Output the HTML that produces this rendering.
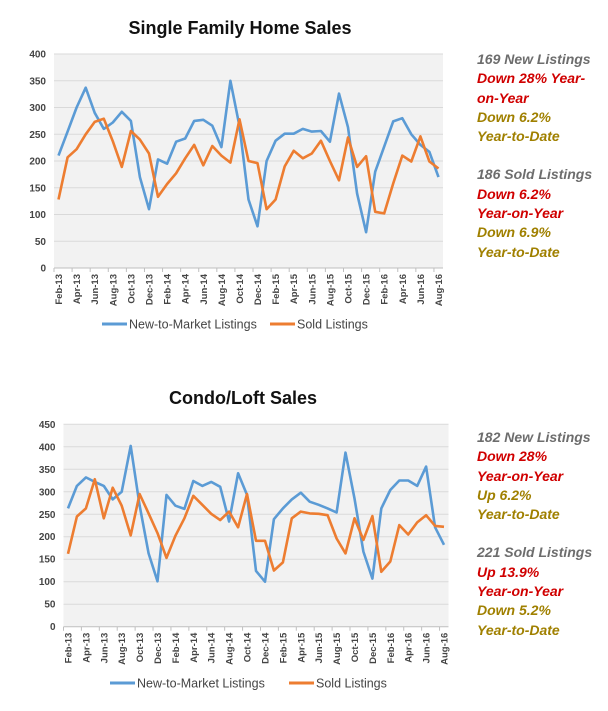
<!DOCTYPE html>
<html><head><meta charset="utf-8"><style>
body{margin:0;background:#fff;width:608px;height:711px;overflow:hidden;font-family:"Liberation Sans",sans-serif}
.note{position:absolute;left:477px;font:italic bold 14px "Liberation Sans",sans-serif;line-height:19.3px;white-space:nowrap}
.g{color:#6d6d6d}.r{color:#d00000}.o{color:#a08000}
</style></head><body>
<svg id="svg" width="608" height="711" style="position:absolute;left:0;top:0"></svg>
<div class="note" style="top:50px">
<div class="g">169 New Listings</div><div class="r">Down 28% Year-</div><div class="r">on-Year</div><div class="o">Down 6.2%</div><div class="o">Year-to-Date</div>
<div class="g" style="margin-top:19px">186 Sold Listings</div><div class="r">Down 6.2%</div><div class="r">Year-on-Year</div><div class="o">Down 6.9%</div><div class="o">Year-to-Date</div></div>
<div class="note" style="top:428px">
<div class="g">182 New Listings</div><div class="r">Down 28%</div><div class="r">Year-on-Year</div><div class="o">Up 6.2%</div><div class="o">Year-to-Date</div>
<div class="g" style="margin-top:19px">221 Sold Listings</div><div class="r">Up 13.9%</div><div class="r">Year-on-Year</div><div class="o">Down 5.2%</div><div class="o">Year-to-Date</div></div>
<script>
const months=["Jan","Feb","Mar","Apr","May","Jun","Jul","Aug","Sep","Oct","Nov","Dec"];
const categories=[];for(let i=0;i<43;i++){const m=(1+i)%12,y=13+Math.floor((1+i)/12);categories.push(months[m]+"-"+y);}
const sfhNew=[210,255,300,337,290,260,272,292,275,170,110,203,195,236,242,275,277,266,226,350,265,128,78,200,238,251,251,260,255,256,236,326,263,139,67,180,227,274,280,250,230,217,170];
const sfhSold=[128,207,222,250,273,279,237,189,256,240,214,133,157,177,205,230,192,228,210,197,278,200,196,110,128,190,219,205,214,238,200,164,244,189,209,105,102,158,210,199,246,199,186];
const condoNew=[263,313,332,322,313,283,300,402,270,163,101,293,269,262,324,313,322,311,234,341,293,124,100,239,263,283,298,278,271,263,254,387,285,167,107,263,304,325,325,313,356,221,182];
const condoSold=[162,245,263,328,241,309,269,203,295,252,208,153,202,241,291,271,251,237,256,221,295,191,191,125,143,241,256,252,251,248,196,163,241,193,246,122,145,226,205,232,248,224,222];
const sfhTicks=[0,50,100,150,200,250,300,350,400];
const condoTicks=[0,50,100,150,200,250,300,350,400,450];
const NS="http://www.w3.org/2000/svg",svg=document.getElementById("svg");
function el(t,a,p){const e=document.createElementNS(NS,t);for(const k in a)e.setAttribute(k,a[k]);(p||svg).appendChild(e);return e;}
function chart(cfg){
 const g=el("g",{});
 
 
 const max=cfg.ticks[cfg.ticks.length-1];
 const ys=v=>cfg.y0-(v/max)*(cfg.y0-cfg.yTop);
 const step=(cfg.right-cfg.left)/categories.length;
 const xs=i=>cfg.left+step*(i+0.5);
 const t=el("text",{x:cfg.tx,y:cfg.ty,"text-anchor":"middle","font-size":18,"font-weight":"bold",fill:"#111"},g);t.textContent=cfg.title;
 
 
 const bg=el("rect",{x:cfg.left,y:cfg.yTop,width:cfg.right-cfg.left,height:cfg.y0-cfg.yTop,fill:"#f2f2f2"},g);
 
 
 cfg.ticks.forEach(v=>{
  el("line",{x1:cfg.left,x2:cfg.right,y1:ys(v),y2:ys(v),stroke:v?"#d9d9d9":"#bfbfbf","stroke-width":1},g);
  const l=el("text",{x:cfg.left-8,y:ys(v)+3.5,"text-anchor":"end","font-size":10,"font-weight":"bold",fill:"#444"},g);l.textContent=v;
  
  
 });
 categories.forEach((c,i)=>{
  const x=cfg.left+step*i;
  if(i%2==0)el("line",{x1:x,x2:x,y1:cfg.y0,y2:cfg.y0+4,stroke:"#bfbfbf"},g);
  if(i%2==0){const l=el("text",{transform:`translate(${xs(i)+3.5},${cfg.y0+6}) rotate(-90)`,"text-anchor":"end","font-size":9.5,"font-weight":"bold",fill:"#444"},g);l.textContent=c;
  
  }
 });
 [[cfg.newData,"#5b9bd5","new-listings-line"],[cfg.soldData,"#ed7d31","sold-listings-line"]].forEach(([d,c,n])=>{
  const p=el("polyline",{points:d.map((v,i)=>xs(i).toFixed(1)+","+ys(v).toFixed(1)).join(" "),fill:"none",stroke:c,"stroke-width":2.6,"stroke-linejoin":"round"},g);
  
  
 });
 [[cfg.lx,"#5b9bd5","New-to-Market Listings"],[cfg.lx2,"#ed7d31","Sold Listings"]].forEach(([x,c,s])=>{
  const lg=el("g",{},g);
  
  
  el("line",{x1:x,x2:x+25,y1:cfg.ly,y2:cfg.ly,stroke:c,"stroke-width":3},lg);
  const tt=el("text",{x:x+27,y:cfg.ly+4.5,"font-size":12.5,fill:"#444"},lg);tt.textContent=s;
 });
}
chart({name:"sfh-chart",title:"Single Family Home Sales",tx:240,ty:34,left:54,right:443,yTop:54,y0:268,ticks:sfhTicks,newData:sfhNew,soldData:sfhSold,lx:102,lx2:270,ly:324});
chart({name:"condo-chart",title:"Condo/Loft Sales",tx:243,ty:404,left:63.5,right:448.5,yTop:424.3,y0:626.7,ticks:condoTicks,newData:condoNew,soldData:condoSold,lx:110,lx2:289,ly:683});
</script></body></html>
